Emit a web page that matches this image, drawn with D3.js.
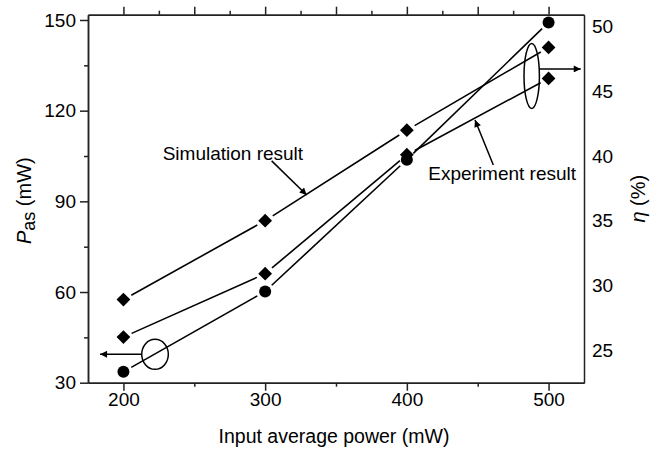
<!DOCTYPE html>
<html><head><meta charset="utf-8">
<script src="https://cdn.jsdelivr.net/npm/d3@7"></script>
<style>
html,body{margin:0;padding:0;background:#fff;}
svg{display:block;font-family:"Liberation Sans",Arial,sans-serif;}
</style></head><body>
<svg id="chart" width="661" height="452"></svg>
<script>
// ---- data ----
const inputPower = [200, 300, 400, 500];
const pasExperiment = [33.6, 60.2, 103.8, 149.2];   // P_as (mW), left axis, circles
const etaSimulation = [28.9, 35.0, 42.0, 48.4];     // eta (%), right axis, diamonds
const etaExperiment = [26.0, 30.9, 40.1, 46.0];     // eta (%), right axis, diamonds
const xMajorTicks = [200, 300, 400, 500];
const xMinorTicks = [250, 350, 450];
const xTopMajorTicks = [200, 250, 300, 350, 400, 450, 500];
const xTopMinorTicks = [225, 275, 325, 375, 425, 475];
const leftMajorTicks = [30, 60, 90, 120, 150];
const leftMinorTicks = [45, 75, 105, 135];
const rightTicks = [25, 30, 35, 40, 45, 50];
const xTitle = "Input average power (mW)";
const simLabel = "Simulation result";
const expLabel = "Experiment result";

// ---- layout ----
const plotL = 88, plotR = 584, plotT = 14.7, plotB = 382.7;
const svg = d3.select("#chart");
const x = d3.scaleLinear().domain([175, 525]).range([plotL, plotR]);
const yL = d3.scaleLinear().domain([30, 151.75]).range([plotB, plotT]);
const yR = d3.scaleLinear().domain([22.47, 50.93]).range([plotB, plotT]);
const axisColor = "#222";
const tickFont = 19;

function styleAxis(g) {
  g.selectAll("path.domain").attr("stroke", axisColor).attr("stroke-width", 1.5);
  g.selectAll(".tick line").attr("stroke", axisColor).attr("stroke-width", 1.5);
  g.selectAll(".tick text").attr("fill", "#000").style("font-size", tickFont + "px")
    .style("font-family", '"Liberation Sans", Arial, sans-serif');
}

// bottom axis
svg.append("g").attr("transform", `translate(0,${plotB})`)
  .call(d3.axisBottom(x).tickValues(xMinorTicks).tickSize(4).tickSizeOuter(0).tickFormat(""))
  .call(styleAxis);
svg.append("g").attr("transform", `translate(0,${plotB})`)
  .call(d3.axisBottom(x).tickValues(xMajorTicks).tickSize(8).tickSizeOuter(0).tickPadding(2).tickFormat(d3.format("d")))
  .call(styleAxis);
// top axis
svg.append("g").attr("transform", `translate(0,${plotT})`)
  .call(d3.axisTop(x).tickValues(xTopMinorTicks).tickSize(4).tickSizeOuter(0).tickFormat(""))
  .call(styleAxis);
svg.append("g").attr("transform", `translate(0,${plotT})`)
  .call(d3.axisTop(x).tickValues(xTopMajorTicks).tickSize(8).tickSizeOuter(0).tickFormat(""))
  .call(styleAxis);
// left axis
svg.append("g").attr("transform", `translate(${plotL},0)`)
  .call(d3.axisLeft(yL).tickValues(leftMinorTicks).tickSize(4).tickSizeOuter(0).tickFormat(""))
  .call(styleAxis);
svg.append("g").attr("transform", `translate(${plotL},0)`)
  .call(d3.axisLeft(yL).tickValues(leftMajorTicks).tickSize(8).tickSizeOuter(0).tickPadding(4).tickFormat(d3.format("d")))
  .call(styleAxis);
// right axis (no tick marks)
svg.append("g").attr("transform", `translate(${plotR},0)`)
  .call(d3.axisRight(yR).tickValues(rightTicks).tickSize(0).tickSizeOuter(0).tickPadding(8).tickFormat(d3.format("d")))
  .call(styleAxis)
  .call(g => g.selectAll(".tick line").remove());

// ---- titles ----
svg.append("text").attr("x", (plotL + plotR) / 2 - 2).attr("y", 443)
  .attr("text-anchor", "middle").style("font-size", "19.5px").attr("fill", "#000").text(xTitle);

const yTitle = svg.append("text").attr("transform", `translate(31,${(plotT + plotB) / 2 + 2}) rotate(-90)`)
  .attr("text-anchor", "middle").style("font-size", "20px").attr("fill", "#000");
yTitle.append("tspan").style("font-style", "italic").text("P");
yTitle.append("tspan").attr("dy", 4).style("font-size", "18px").text("as");
yTitle.append("tspan").attr("dy", -4).text(" (mW)");

const rTitle = svg.append("text").attr("transform", `translate(645,${(plotT + plotB) / 2}) rotate(-90)`)
  .attr("text-anchor", "middle").style("font-size", "20px").attr("fill", "#000");
rTitle.append("tspan").style("font-style", "italic").text("η");
rTitle.append("tspan").text(" (%)");

// ---- series ----
const gap = 9;
function drawSeries(values, yScale) {
  const pts = inputPower.map((d, i) => [x(d), yScale(values[i])]);
  const segs = [];
  for (let i = 0; i < pts.length - 1; i++) {
    const [x1, y1] = pts[i], [x2, y2] = pts[i + 1];
    const len = Math.hypot(x2 - x1, y2 - y1);
    const ux = (x2 - x1) / len, uy = (y2 - y1) / len;
    segs.push([x1 + ux * gap, y1 + uy * gap, x2 - ux * gap, y2 - uy * gap]);
  }
  svg.append("g").selectAll("line").data(segs).join("line")
    .attr("x1", d => d[0]).attr("y1", d => d[1]).attr("x2", d => d[2]).attr("y2", d => d[3])
    .attr("stroke", "#000").attr("stroke-width", 1.6);
  return pts;
}
const pSim = drawSeries(etaSimulation, yR);
const pExp = drawSeries(etaExperiment, yR);
const pPas = drawSeries(pasExperiment, yL);

svg.append("g").selectAll("path").data(pSim.concat(pExp)).join("path")
  .attr("d", d3.symbol().type(d3.symbolSquare).size(95)())
  .attr("transform", d => `translate(${d[0]},${d[1]}) rotate(45)`)
  .attr("fill", "#000");
svg.append("g").selectAll("circle").data(pPas).join("circle")
  .attr("cx", d => d[0]).attr("cy", d => d[1]).attr("r", 6).attr("fill", "#000");

// ---- annotations ----
const defs = svg.append("defs");
defs.append("marker").attr("id", "ah").attr("viewBox", "0 0 10 10").attr("refX", 10).attr("refY", 5)
  .attr("markerUnits", "userSpaceOnUse").attr("markerWidth", 10).attr("markerHeight", 7)
  .attr("orient", "auto")
  .append("path").attr("d", "M0,0 L10,5 L0,10 Z").attr("fill", "#000");

// arrows defined in data units [x1, P1, x2, P2]
const arrows = [
  [304.6, 103.4, 329.3, 92.1],
  [461.0, 102.0, 448.1, 116.9],
  [212.9, 39.4, 183.5, 39.4],
  [493.5, 133.8, 522.7, 133.8]
];
svg.append("g").selectAll("line").data(arrows).join("line")
  .attr("x1", d => x(d[0])).attr("y1", d => yL(d[1]))
  .attr("x2", d => x(d[2])).attr("y2", d => yL(d[3]))
  .attr("stroke", "#000").attr("stroke-width", 1.5).attr("marker-end", "url(#ah)");

const ellipses = [
  { cx: 222.3, cy: 39.4, rx: 13.3, ry: 15 },
  { cx: 488.1, cy: 131.5, rx: 7.7, ry: 32.5 }
];
svg.append("g").selectAll("ellipse").data(ellipses).join("ellipse")
  .attr("cx", d => x(d.cx)).attr("cy", d => yL(d.cy)).attr("rx", d => d.rx).attr("ry", d => d.ry)
  .attr("fill", "none").attr("stroke", "#000").attr("stroke-width", 1.5);

const labels = [
  { text: simLabel, xv: 227.7, pv: 103.7 },
  { text: expLabel, xv: 415.1, pv: 97.0 }
];
svg.append("g").selectAll("text").data(labels).join("text")
  .attr("x", d => x(d.xv)).attr("y", d => yL(d.pv))
  .style("font-size", "19px").attr("fill", "#000").text(d => d.text);
</script>
</body></html>
